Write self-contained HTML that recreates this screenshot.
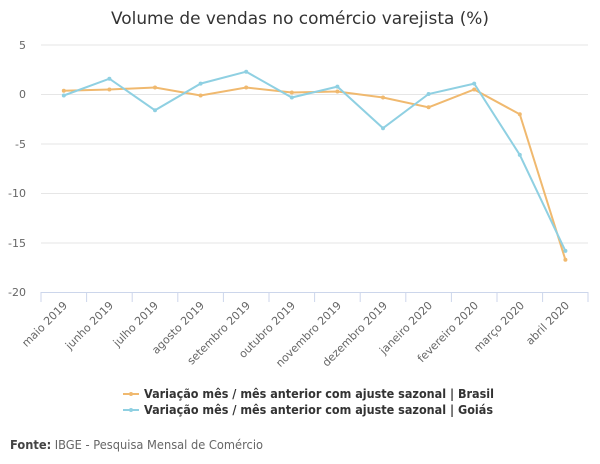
<!DOCTYPE html>
<html><head><meta charset="utf-8"><style>
body{margin:0;background:#fff;}
svg{display:block;font-family:"DejaVu Sans","Liberation Sans",sans-serif;}
</style></head><body>
<svg width="600" height="464" viewBox="0 0 600 464">
<text x="111" y="24" font-size="16.5" fill="#333" textLength="378" lengthAdjust="spacingAndGlyphs">Volume de vendas no comércio varejista (%)</text>
<g stroke="#e6e6e6" stroke-width="1">
<line x1="41" x2="588" y1="45" y2="45"/>
<line x1="41" x2="588" y1="94.5" y2="94.5"/>
<line x1="41" x2="588" y1="144" y2="144"/>
<line x1="41" x2="588" y1="193.5" y2="193.5"/>
<line x1="41" x2="588" y1="243" y2="243"/>
</g>
<line x1="41" x2="588" y1="292.5" y2="292.5" stroke="#ccd6eb"/>
<g stroke="#ccd6eb">
<line x1="41" x2="41" y1="292" y2="302"/><line x1="86.6" x2="86.6" y1="292" y2="302"/><line x1="132.2" x2="132.2" y1="292" y2="302"/><line x1="177.8" x2="177.8" y1="292" y2="302"/><line x1="223.4" x2="223.4" y1="292" y2="302"/><line x1="269" x2="269" y1="292" y2="302"/><line x1="314.6" x2="314.6" y1="292" y2="302"/><line x1="360.2" x2="360.2" y1="292" y2="302"/><line x1="405.8" x2="405.8" y1="292" y2="302"/><line x1="451.4" x2="451.4" y1="292" y2="302"/><line x1="497" x2="497" y1="292" y2="302"/><line x1="542.6" x2="542.6" y1="292" y2="302"/><line x1="588" x2="588" y1="292" y2="302"/>
</g>
<g font-size="11" fill="#666" text-anchor="end">
<text x="26" y="49">5</text><text x="26" y="98">0</text><text x="26" y="148">-5</text><text x="26" y="197">-10</text><text x="26" y="247">-15</text><text x="26" y="296">-20</text>
</g>
<g font-size="11" fill="#666" text-anchor="end">
<text transform="translate(68,306) rotate(-45)">maio 2019</text>
<text transform="translate(114,306) rotate(-45)">junho 2019</text>
<text transform="translate(159,306) rotate(-45)">julho 2019</text>
<text transform="translate(205,306) rotate(-45)">agosto 2019</text>
<text transform="translate(251,306) rotate(-45)">setembro 2019</text>
<text transform="translate(296,306) rotate(-45)">outubro 2019</text>
<text transform="translate(342,306) rotate(-45)">novembro 2019</text>
<text transform="translate(388,306) rotate(-45)">dezembro 2019</text>
<text transform="translate(433,306) rotate(-45)">janeiro 2020</text>
<text transform="translate(479,306) rotate(-45)">fevereiro 2020</text>
<text transform="translate(525,306) rotate(-45)">março 2020</text>
<text transform="translate(570,306) rotate(-45)">abril 2020</text>
</g>
<polyline fill="none" stroke="#f0b96f" stroke-width="2" points="63.8,90.8 109.4,89.5 155,87.5 200.6,95.5 246.2,87.5 291.8,92.5 337.4,91.5 383,97.5 428.6,107.3 474.2,89.5 519.8,114.3 565.4,259.8"/>
<polyline fill="none" stroke="#8fd0e2" stroke-width="2" points="63.8,95.5 109.4,78.7 155,110.3 200.6,83.6 246.2,71.7 291.8,97.5 337.4,86.6 383,128.2 428.6,94 474.2,83.6 519.8,154.9 565.4,250.9"/>
<g fill="#f0b96f"><circle cx="63.8" cy="90.8" r="2"/><circle cx="109.4" cy="89.5" r="2"/><circle cx="155" cy="87.5" r="2"/><circle cx="200.6" cy="95.5" r="2"/><circle cx="246.2" cy="87.5" r="2"/><circle cx="291.8" cy="92.5" r="2"/><circle cx="337.4" cy="91.5" r="2"/><circle cx="383" cy="97.5" r="2"/><circle cx="428.6" cy="107.3" r="2"/><circle cx="474.2" cy="89.5" r="2"/><circle cx="519.8" cy="114.3" r="2"/><circle cx="565.4" cy="259.8" r="2"/></g>
<g fill="#8fd0e2"><circle cx="63.8" cy="95.5" r="2"/><circle cx="109.4" cy="78.7" r="2"/><circle cx="155" cy="110.3" r="2"/><circle cx="200.6" cy="83.6" r="2"/><circle cx="246.2" cy="71.7" r="2"/><circle cx="291.8" cy="97.5" r="2"/><circle cx="337.4" cy="86.6" r="2"/><circle cx="383" cy="128.2" r="2"/><circle cx="428.6" cy="94" r="2"/><circle cx="474.2" cy="83.6" r="2"/><circle cx="519.8" cy="154.9" r="2"/><circle cx="565.4" cy="250.9" r="2"/></g>
<line x1="123" x2="139" y1="394" y2="394" stroke="#f0b96f" stroke-width="2"/><circle cx="131" cy="394" r="2" fill="#f0b96f"/>
<line x1="123" x2="139" y1="410" y2="410" stroke="#8fd0e2" stroke-width="2"/><circle cx="131" cy="410" r="2" fill="#8fd0e2"/>
<g font-size="12" font-weight="bold" fill="#333">
<text x="144" y="398" textLength="350" lengthAdjust="spacingAndGlyphs">Variação mês / mês anterior com ajuste sazonal | Brasil</text>
<text x="144" y="414" textLength="349" lengthAdjust="spacingAndGlyphs">Variação mês / mês anterior com ajuste sazonal | Goiás</text>
</g>
<text x="10" y="449" font-size="12" fill="#666" textLength="253" lengthAdjust="spacingAndGlyphs"><tspan font-weight="bold" fill="#444">Fonte:</tspan> IBGE - Pesquisa Mensal de Comércio</text>
</svg>
</body></html>
